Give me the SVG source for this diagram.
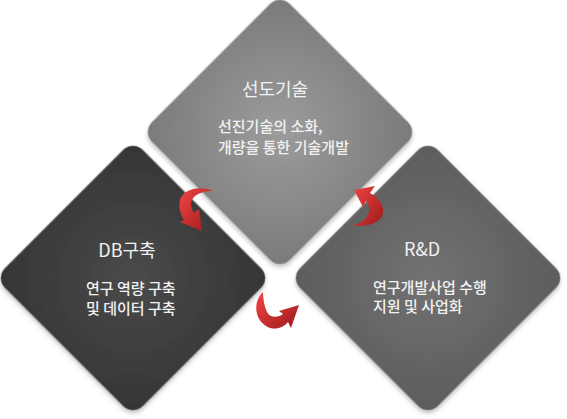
<svg xmlns="http://www.w3.org/2000/svg" width="567" height="419" viewBox="0 0 567 419">
<defs>
<radialGradient id="gTop" cx="50%" cy="50%" r="70%">
<stop offset="0" stop-color="#9c9c9c"/><stop offset="1" stop-color="#7a7a7a"/>
</radialGradient>
<radialGradient id="gLeft" cx="50%" cy="50%" r="70%">
<stop offset="0" stop-color="#4a4a4a"/><stop offset="1" stop-color="#353535"/>
</radialGradient>
<radialGradient id="gRight" cx="50%" cy="50%" r="70%">
<stop offset="0" stop-color="#727272"/><stop offset="1" stop-color="#5c5c5c"/>
</radialGradient>
<linearGradient id="gArrow" x1="0" y1="0" x2="1" y2="1">
<stop offset="0" stop-color="#f04545"/><stop offset="1" stop-color="#9e1a1a"/>
</linearGradient>
<filter id="sh" x="-20%" y="-20%" width="140%" height="140%">
<feDropShadow dx="2" dy="2" stdDeviation="2" flood-color="#000" flood-opacity="0.25"/>
</filter>
</defs>
<style>
.d{filter:url(#sh)}
.t{font-family:"Noto Sans CJK KR","Noto Sans",sans-serif;fill:#f2f2f2;font-size:18px;font-weight:400;text-anchor:middle}
.b{font-family:"Noto Sans CJK KR","Noto Sans",sans-serif;fill:#f2f2f2;font-size:15px;font-weight:500}
.a{fill:url(#gArrow)}
</style>
<rect width="567" height="419" fill="#fff"/>
<g id="node-db">
<rect class="d" x="-97.5" y="-97.5" width="195" height="195" rx="14" fill="url(#gLeft)" transform="translate(133,278) rotate(45)"/>
<text class="t" x="127" y="257">DB구축</text>
<text class="b" x="86" y="294">연구 역량 구축</text>
<text class="b" x="86" y="314">및 데이터 구축</text>
</g>
<g id="node-rd">
<rect class="d" x="-97.5" y="-97.5" width="195" height="195" rx="14" fill="url(#gRight)" transform="translate(428,278) rotate(45)"/>
<text class="t" x="422" y="256">R&amp;D</text>
<text class="b" x="373" y="293">연구개발사업 수행</text>
<text class="b" x="373" y="312">지원 및 사업화</text>
</g>
<g id="node-top">
<rect class="d" x="-97.5" y="-97.5" width="195" height="195" rx="14" fill="url(#gTop)" transform="translate(280,132) rotate(45)"/>
<text class="t" x="275" y="96">선도기술</text>
<text class="b" x="218" y="132">선진기술의 소화,</text>
<text class="b" x="218" y="153">개량을 통한 기술개발</text>
</g>
<g id="connectors">
<path class="a" d="M213,191 C200,185 183,189 180,200 C178,208 181,215 184,220 L180,222 L202,231 L199,209 L194,213 C190,207 190,200 195,196 C200,192 207,191 213,191 Z"/>
<path class="a" d="M263,292 C254,300 253,318 266,326 C274,331 283,328 288,322 L291,328 L299,305 L279,311 L283,314 C278,318 270,318 267,312 C264,306 263,298 263,292 Z"/>
<path class="a" d="M354,190 L375,186 L370,193 C384,200 390,218 372,224 C365,226 358,226 352,226 C366,222 374,212 366,201 L363,207 Z"/>
</g>
</svg>
